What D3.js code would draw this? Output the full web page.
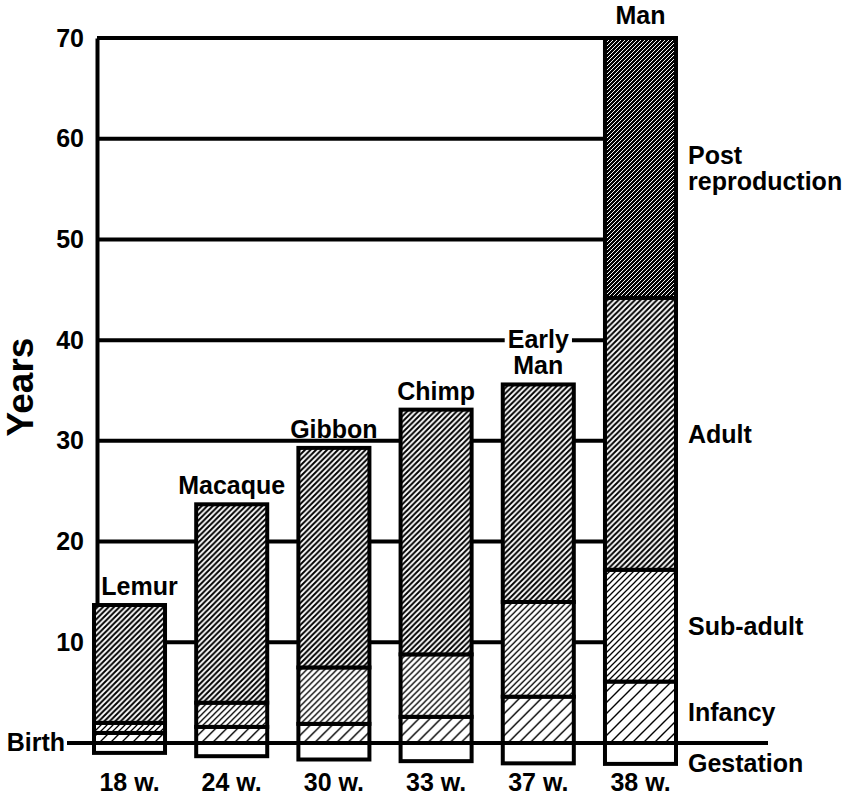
<!DOCTYPE html>
<html>
<head>
<meta charset="utf-8">
<script src="https://cdn.jsdelivr.net/npm/d3@7"></script>
<style>
	body { margin: 0; background: #fff; }
	svg text { font-family: "Liberation Sans", Arial, Helvetica, sans-serif; font-weight: bold; fill: #000; }
</style>
</head>
<body>
<div id="chart-area"></div>
<script>
// life phases of primates, in years (gestation in weeks)
const species = ["Lemur", "Macaque", "Gibbon", "Chimp", "Early Man", "Man"]
const gestationWeeks = [18, 24, 30, 33, 37, 38]
const infancyEnd = [1, 1.6, 1.9, 2.6, 4.6, 6.1]
const subAdultEnd = [2, 4, 7.5, 8.8, 14, 17.2]
const adultEnd = [13.7, 23.7, 29.3, 33.1, 35.6, 44.2]
const lifespan = [13.7, 23.7, 29.3, 33.1, 35.6, 70]
const yTicks = [10, 20, 30, 40, 50, 60, 70]

const WIDTH = 860
const HEIGHT = 798
const AXIS_X = 97
const STROKE = 4
const LINE_H = 26

const svg = d3.select("#chart-area").append("svg")
	.attr("width", WIDTH)
	.attr("height", HEIGHT)

// scales
const y = d3.scaleLinear().domain([0, 70]).range([743, 38])
const gest = d3.scaleLinear().domain([0, 40]).range([0, 22])
const x = d3.scaleBand()
	.domain(species)
	.range([94, 676])
	.paddingInner(0.305)
	.paddingOuter(0)

// hatch patterns
const defs = svg.append("defs")
function hatch(id, size, width, bg, fg) {
	const p = defs.append("pattern")
		.attr("id", id)
		.attr("patternUnits", "userSpaceOnUse")
		.attr("width", size)
		.attr("height", size)
	p.append("rect")
		.attr("width", size)
		.attr("height", size)
		.attr("fill", bg)
	p.append("path")
		.attr("d", `M-1,1 l2,-2 M0,${size} l${size},${-size} M${size - 1},${size + 1} l2,-2`)
		.attr("stroke", fg)
		.attr("stroke-width", width)
}
hatch("infancy", 11, 1.4, "#fff", "#000")
hatch("subadult", 6, 1.3, "#fff", "#000")
hatch("adult", 5.5, 2, "#fff", "#000")
hatch("post", 4, 1, "#000", "#fff")

// gridlines
svg.append("g")
	.selectAll("line")
	.data(yTicks)
	.enter().append("line")
	.attr("x1", AXIS_X)
	.attr("x2", x("Man") + x.bandwidth() / 2)
	.attr("y1", d => y(d))
	.attr("y2", d => y(d))
	.attr("stroke", "#000")
	.attr("stroke-width", STROKE)

// y axis
const yAxis = svg.append("g")
	.attr("transform", `translate(${AXIS_X}, 0)`)
	.call(d3.axisLeft(y).tickValues(yTicks).tickSize(0).tickSizeOuter(0).tickPadding(13))
yAxis.select(".domain")
	.attr("stroke", "#000")
	.attr("stroke-width", STROKE)
yAxis.selectAll("text")
	.style("font-size", "25px")
	.attr("font-family", null)

svg.append("text")
	.attr("transform", "translate(33, 387) rotate(-90)")
	.attr("text-anchor", "middle")
	.style("font-size", "37px")
	.text("Years")

// bars
const bars = species.map((name, i) => ({
	name: name,
	weeks: gestationWeeks[i],
	top: lifespan[i],
	segs: [
		{ phase: "infancy", y0: 0, y1: infancyEnd[i] },
		{ phase: "subadult", y0: infancyEnd[i], y1: subAdultEnd[i] },
		{ phase: "adult", y0: subAdultEnd[i], y1: adultEnd[i] },
		{ phase: "post", y0: adultEnd[i], y1: lifespan[i] }
	].filter(s => s.y1 > s.y0)
}))

const barG = svg.append("g")
	.selectAll("g")
	.data(bars)
	.enter().append("g")
	.attr("transform", d => `translate(${x(d.name)}, 0)`)

barG.append("rect")
	.attr("class", "gestation")
	.attr("y", y(0))
	.attr("width", x.bandwidth())
	.attr("height", d => gest(d.weeks))
	.attr("fill", "#fff")
	.attr("stroke", "#000")
	.attr("stroke-width", STROKE)

barG.selectAll(".seg")
	.data(d => d.segs)
	.enter().append("rect")
	.attr("class", "seg")
	.attr("y", d => y(d.y1))
	.attr("width", x.bandwidth())
	.attr("height", d => y(d.y0) - y(d.y1))
	.attr("fill", d => `url(#${d.phase})`)
	.attr("stroke", "#000")
	.attr("stroke-width", STROKE)

// birth line
svg.append("line")
	.attr("x1", 67)
	.attr("x2", 768)
	.attr("y1", y(0))
	.attr("y2", y(0))
	.attr("stroke", "#000")
	.attr("stroke-width", STROKE)

svg.append("text")
	.attr("x", 65)
	.attr("y", y(0))
	.attr("dy", "0.33em")
	.attr("text-anchor", "end")
	.style("font-size", "25px")
	.text("Birth")

// species labels above bars ("Early" knocks out the 40 gridline)
const labelG = svg.append("g")
bars.forEach(d => {
	const cx = x(d.name) + x.bandwidth() / 2 + (d.name === "Lemur" ? 10 : 0)
	const words = d.name === "Early Man" ? ["Early", "Man"] : [d.name]
	const base = d.name === "Man" ? 24 : y(d.top) - 10
	words.forEach((w, k) => {
		const t = labelG.append("text")
			.attr("x", cx)
			.attr("y", base - (words.length - 1 - k) * LINE_H)
			.attr("text-anchor", "middle")
			.style("font-size", "25px")
			.text(w)
		if (w === "Early") {
			const bb = t.node().getBBox()
			labelG.insert("rect", () => t.node())
				.attr("x", bb.x - 3)
				.attr("y", bb.y + 4)
				.attr("width", bb.width + 6)
				.attr("height", 22)
				.attr("fill", "#fff")
		}
	})
})

// gestation labels under bars
svg.append("g")
	.selectAll("text")
	.data(bars)
	.enter().append("text")
	.attr("x", d => x(d.name) + x.bandwidth() / 2)
	.attr("y", 791)
	.attr("text-anchor", "middle")
	.style("font-size", "25px")
	.text(d => `${d.weeks} w.`)

// phase legend at the right, aligned with the Man bar
const man = bars[bars.length - 1]
const mid = s => y((s.y0 + s.y1) / 2)
const phaseLabels = [
	{ lines: ["Post", "reproduction"], cy: mid(man.segs[3]) },
	{ lines: ["Adult"], cy: mid(man.segs[2]) },
	{ lines: ["Sub-adult"], cy: mid(man.segs[1]) },
	{ lines: ["Infancy"], cy: mid(man.segs[0]) },
	{ lines: ["Gestation"], cy: y(0) + gest(man.weeks) / 2 + 10 }
]
const legend = svg.append("g")
phaseLabels.forEach(p => {
	p.lines.forEach((l, k) => {
		legend.append("text")
			.attr("x", 688)
			.attr("y", p.cy + 9 + (k - (p.lines.length - 1) / 2) * LINE_H)
			.style("font-size", "25px")
			.text(l)
	})
})
</script>
</body>
</html>
